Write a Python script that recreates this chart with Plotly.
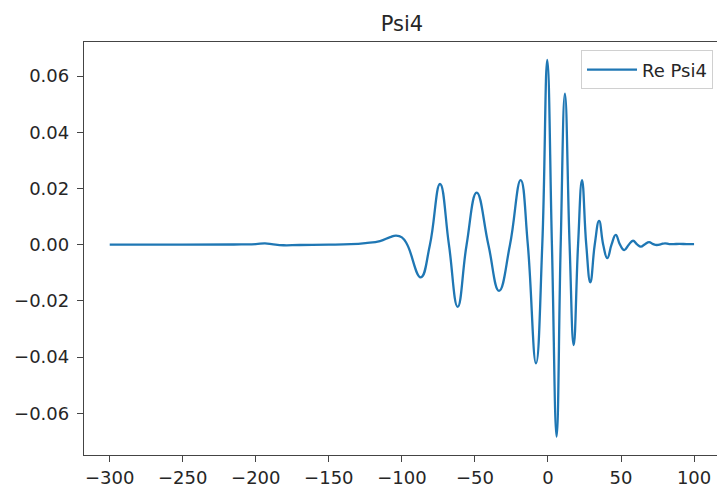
import plotly.graph_objects as go

# Values (time vs Re Psi4)
t_vals = [-300, -250, -210, -200, -193.7, -188, -181, -170, -150, -135, -125, -115,
          -108, -104, -100, -96.3, -87.1, -80.8, -73.9, -67.8, -61.8, -55.7, -48.8,
          -40.8, -33.5, -26.0, -18.7, -13.8, -8.2, -3.9, -0.5, 2.7, 5.9, 8.7, 11.6,
          14.8, 17.6, 20.6, 23.3, 26.2, 29.0, 32.0, 35.0, 37.8, 40.6, 43.5, 46.4,
          49.3, 52.2, 55.3, 58.2, 61.0, 63.6, 66.4, 69.2, 72.0, 74.5, 77.5, 80.1,
          83.0, 86.0, 90.0, 95.0, 100.0]
re_psi4 = [0.0000, 0.0000, 0.0001, 0.0002, 0.0005, 0.0001, -0.0002, -0.0001, 0.0000,
           0.0002, 0.0006, 0.0013, 0.0027, 0.0032, 0.0026, 0.0000, -0.0116, 0.0000,
           0.0216, 0.0000, -0.0221, 0.0000, 0.0185, 0.0000, -0.0164, 0.0000, 0.0230,
           0.0000, -0.0422, 0.0000, 0.0657, 0.0000, -0.0683, 0.0000, 0.0537, 0.0000,
           -0.0357, 0.0000, 0.0230, 0.0000, -0.0134, 0.0000, 0.0085, 0.0000, -0.0048,
           0.0000, 0.0035, 0.0000, -0.0019, 0.0000, 0.0014, 0.0001, -0.0007, 0.0002,
           0.0009, 0.0002, -0.0001, 0.0002, 0.0005, 0.0002, 0.0002, 0.0003, 0.0002,
           0.0002]

x_ticks = [-300, -250, -200, -150, -100, -50, 0, 50, 100]
y_ticks = [-0.06, -0.04, -0.02, 0.0, 0.02, 0.04, 0.06]
y_tick_text = ["\u22120.06", "\u22120.04", "\u22120.02", "0.00", "0.02", "0.04", "0.06"]
x_tick_text = ["\u2212300", "\u2212250", "\u2212200", "\u2212150", "\u2212100", "\u221250", "0", "50", "100"]

FONT = "DejaVu Sans"
AX = "#444444"
TXT = "#262626"

fig = go.Figure()
fig.add_trace(go.Scatter(
    x=t_vals, y=re_psi4, mode="lines", name="Re Psi4",
    line=dict(color="#1f77b4", width=2.3, shape="spline", smoothing=1.3),
))

fig.update_layout(
    width=717, height=489,
    margin=dict(l=84, r=0, t=42, b=34),
    paper_bgcolor="white", plot_bgcolor="white",
    font=dict(family=FONT, size=18, color=TXT),
    title=dict(text="Psi4", x=402 / 717, xref="container", xanchor="center",
               y=(489 - 24) / 489, yref="container", yanchor="middle",
               font=dict(family=FONT, size=21, color=TXT)),
    showlegend=True,
    legend=dict(x=0.9937, y=0.9796, xanchor="right", yanchor="top",
                bgcolor="rgba(255,255,255,0.8)", bordercolor="#d0d0d0", borderwidth=1,
                itemwidth=50, tracegroupgap=0,
                font=dict(family=FONT, size=18, color=TXT)),
)
fig.update_xaxes(
    range=[-317.6, 115.7], tickvals=x_ticks, ticktext=x_tick_text,
    showgrid=False, zeroline=False, showline=True, linecolor=AX, linewidth=1.3,
    mirror=True, ticks="outside", ticklen=6, tickwidth=1.3, tickcolor=AX,
    tickfont=dict(family=FONT, size=18, color=TXT),
)
fig.update_yaxes(
    range=[-0.07481, 0.07211], tickvals=y_ticks, ticktext=y_tick_text,
    showgrid=False, zeroline=False, showline=True, linecolor=AX, linewidth=1.3,
    mirror=False, ticks="outside", ticklen=6, tickwidth=1.3, tickcolor=AX,
    ticklabelstandoff=4,
    tickfont=dict(family=FONT, size=18, color=TXT),
)

fig.write_html("out.html")
